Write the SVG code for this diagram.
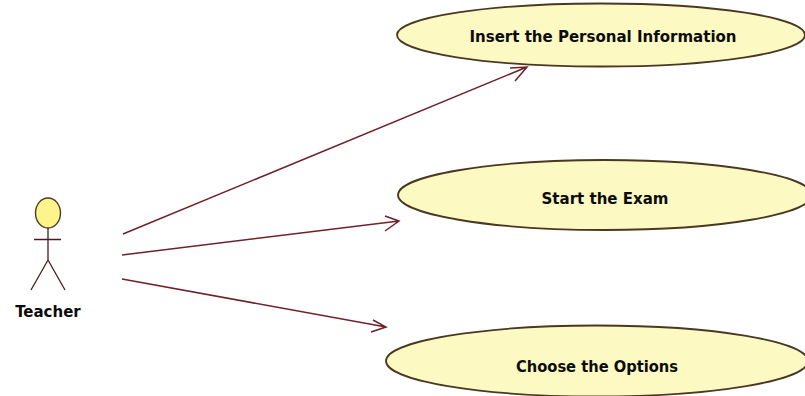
<svg xmlns="http://www.w3.org/2000/svg" width="805" height="396" viewBox="0 0 805 396">
<style>
.uc{fill:#fcf9c3;stroke:#4a3820;stroke-width:1.8}
.t{font-family:"DejaVu Sans Condensed","DejaVu Sans",sans-serif;font-weight:700;fill:#0c0c0c;text-anchor:middle;font-size:16.700px}
.c{fill:none;stroke:#6e2228;stroke-width:1.5}
.a{fill:none;stroke:#4a1c20;stroke-width:1.3}
</style>
<rect width="805" height="396" fill="#ffffff"/>
<g id="connectors">
<path class="c" d="M123 234L527 67M510 68L527 67L515 81"/>
<path class="c" d="M122 255L399 221M385 216L399 221L385 231"/>
<path class="c" d="M122 279L386 327M373 320L386 327L371 332"/>
</g>
<g id="actor-teacher">
<ellipse cx="48" cy="213" rx="12.500" ry="15" fill="#fdf58c" stroke="#4f3a22" stroke-width="1.4"/>
<path class="a" d="M48 228V260M34 239.500H61M48 260L31 290M48 260L65 290"/>
<text class="t" x="48" y="317">Teacher</text>
</g>
<g id="uc-insert">
<ellipse class="uc" cx="601" cy="35" rx="204" ry="31.500"/>
<text class="t" x="603" y="42">Insert the Personal Information</text>
</g>
<g id="uc-start">
<ellipse class="uc" cx="605" cy="195" rx="207" ry="35"/>
<text class="t" x="605" y="203.500">Start the Exam</text>
</g>
<g id="uc-choose">
<ellipse class="uc" cx="597" cy="361" rx="211" ry="35.500"/>
<text class="t" x="597" y="371.500" textLength="162" lengthAdjust="spacingAndGlyphs">Choose the Options</text>
</g>
</svg>
